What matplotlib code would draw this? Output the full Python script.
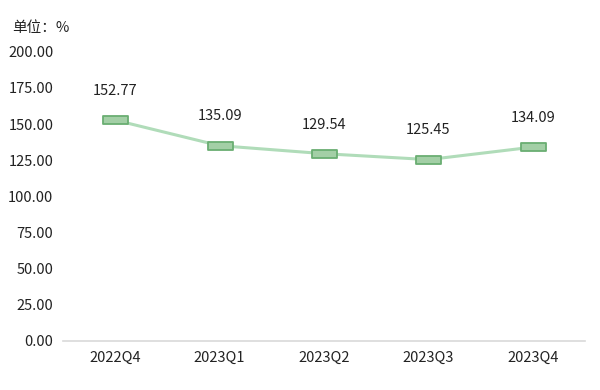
import matplotlib
matplotlib.use("Agg")
import matplotlib.pyplot as plt
from matplotlib.path import Path

plt.rcParams['font.family'] = ['Noto Sans CJK SC', 'DejaVu Sans']

categories = ["2022Q4", "2023Q1", "2023Q2", "2023Q3", "2023Q4"]
values = [152.77, 135.09, 129.54, 125.45, 134.09]
yticks = [0, 25, 50, 75, 100, 125, 150, 175, 200]

fig = plt.figure(figsize=(6, 3.9), dpi=100)
ax = fig.add_axes([0.105, 0.126, 0.87, 0.741])
x = list(range(len(categories)))
ax.plot(x, values, color="#b0dcb9", lw=2.2, zorder=2, solid_capstyle='round')

verts = [(-1.65, -0.5), (1.65, -0.5), (1.65, 0.5), (-1.65, 0.5), (-1.65, -0.5)]
codes = [Path.MOVETO, Path.LINETO, Path.LINETO, Path.LINETO, Path.CLOSEPOLY]
rect = Path(verts, codes)
ax.plot(x, values, linestyle='none', marker=rect, markersize=18, zorder=3,
        markerfacecolor="#a3cfa6", markeredgecolor="#6aae72", markeredgewidth=1.3)

for xi, v in zip(x, values):
    ax.annotate(f"{v:.2f}", (xi, v), xytext=(0, 21), textcoords='offset points',
                ha='center', va='center', fontsize=10.5, color="#222222")

ax.set_xlim(-0.5, len(categories) - 0.5)
ax.set_ylim(0, 200)
ax.set_yticks(yticks)
ax.set_yticklabels([f"{t:.2f}" for t in yticks], fontsize=10.5, color="#222222")
ax.set_xticks(x)
ax.set_xticklabels(categories, fontsize=10.5, color="#222222")
ax.tick_params(length=0, pad=7)
ax.tick_params(axis='y', pad=7)
for s in ['top', 'right', 'left']:
    ax.spines[s].set_visible(False)
ax.spines['bottom'].set_color("#d9d9d9")
ax.spines['bottom'].set_linewidth(1.2)

fig.text(12/600, 1 - 28/390, "单位：%", fontsize=10.5, color="#222222", va='center', ha='left')

fig.savefig("out.png", dpi=100)
